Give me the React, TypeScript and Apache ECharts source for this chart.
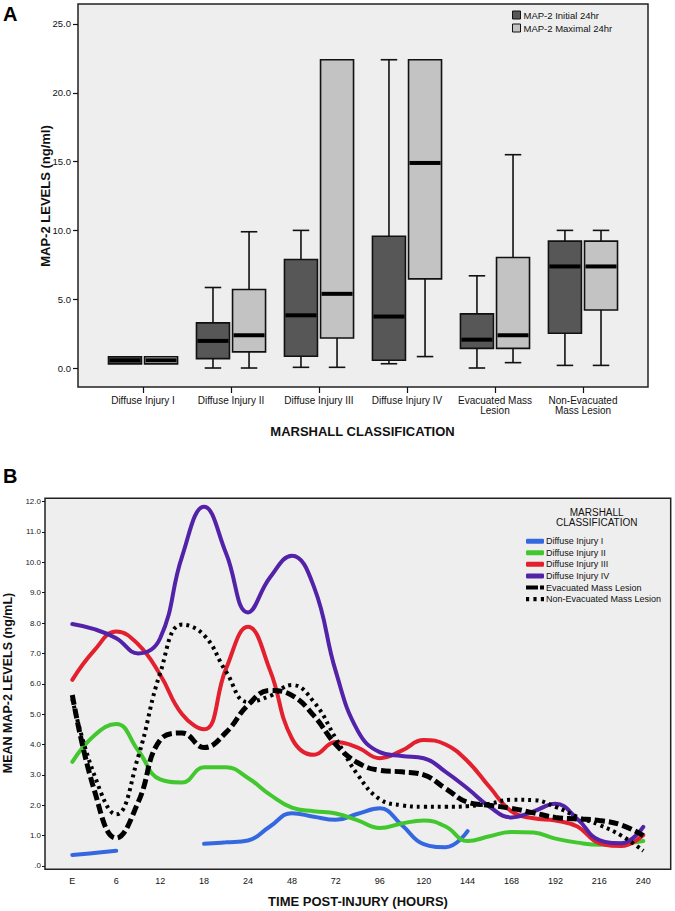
import React, { useEffect, useRef } from 'react';
import * as echarts from 'echarts';

const FONT = '"Liberation Sans", Arial, Helvetica, sans-serif';

// ---------- Panel A data ----------
const boxCategories = [
  'Diffuse Injury I',
  'Diffuse Injury II',
  'Diffuse Injury III',
  'Diffuse Injury IV',
  'Evacuated Mass\nLesion',
  'Non-Evacuated\nMass Lesion',
];
// [low whisker, Q1, median, Q3, high whisker]
const initialBoxes = [
  [0.3, 0.3, 0.56, 0.82, 0.82],
  [0.0, 0.68, 1.97, 3.28, 5.85],
  [0.05, 0.85, 3.83, 7.89, 10.0],
  [0.31, 0.56, 3.74, 9.57, 22.4],
  [0.0, 1.43, 2.06, 3.93, 6.7],
  [0.19, 2.53, 7.38, 9.22, 10.0],
];
const maximalBoxes = [
  [0.3, 0.3, 0.56, 0.82, 0.82],
  [0.0, 1.17, 2.38, 5.7, 9.9],
  [0.05, 2.18, 5.39, 22.4, 22.4],
  [0.83, 6.48, 14.9, 22.4, 22.4],
  [0.39, 1.43, 2.38, 8.03, 15.5],
  [0.19, 4.22, 7.38, 9.22, 10.0],
];
const boxSeriesNames = ['MAP-2 Initial 24hr', 'MAP-2 Maximal 24hr'];
const levelTicksA = [0, 5, 10, 15, 20, 25];

// ---------- Panel B data ----------
const timeLabels = ['E', '6', '12', '18', '24', '48', '72', '96', '120', '144', '168', '192', '216', '240'];
const levelTicksB = [0, 1, 2, 3, 4, 5, 6, 7, 8, 9, 10, 11, 12];
const samplePositions = [0, 0.5, 1, 1.5, 2, 2.5, 3, 3.5, 4, 4.5, 5, 5.5, 6, 6.5, 7, 7.5, 8, 8.5, 9, 9.5, 10, 10.5, 11, 11.5, 12, 12.5, 13];
const diffuseI = [0.36, 0.43, 0.5, null, null, null, 0.73, 0.78, 0.84, 1.3, 1.74, 1.62, 1.52, 1.72, 1.9, 1.35, 0.72, 0.62, 1.15, null, null, null, null, null, null, null, null];
const diffuseII = [3.43, 4.3, 4.68, 3.8, 2.85, 2.75, 3.25, 3.25, 2.9, 2.35, 1.92, 1.8, 1.73, 1.5, 1.25, 1.4, 1.5, 1.3, 0.82, 0.98, 1.12, 1.1, 0.9, 0.77, 0.7, 0.73, 0.82];
const diffuseIII = [6.13, 7.1, 7.72, 7.3, 6.3, 5.0, 4.5, 6.5, 7.88, 6.45, 4.2, 3.66, 4.08, 3.9, 3.55, 3.8, 4.15, 4.0, 3.45, 2.6, 1.8, 1.57, 1.5, 1.3, 0.75, 0.66, 1.02];
const diffuseIV = [7.97, 7.8, 7.5, 7.0, 7.5, 10.2, 11.83, 10.3, 8.35, 9.5, 10.22, 9.2, 6.4, 4.45, 3.75, 3.62, 3.55, 3.1, 2.55, 1.95, 1.6, 1.8, 2.05, 1.55, 0.85, 0.75, 1.29];
const evacuated = [5.63, 2.5, 0.92, 2.1, 4.15, 4.38, 3.9, 4.4, 5.3, 5.78, 5.62, 4.95, 4.0, 3.4, 3.15, 3.1, 3.0, 2.55, 2.1, 2.0, 1.9, 1.75, 1.6, 1.55, 1.5, 1.35, 1.0];
const nonEvacuated = [5.5, 3.0, 1.7, 3.6, 6.35, 7.95, 7.6, 6.4, 5.4, 5.6, 5.96, 5.4, 4.2, 3.0, 2.2, 2.0, 1.95, 1.95, 1.97, 2.05, 2.18, 2.17, 1.95, 1.62, 1.35, 1.0, 0.5];

const lineDefs = [
  { name: 'Diffuse Injury I', values: diffuseI, color: '#3568e0', width: 4, dash: 'solid' as any },
  { name: 'Diffuse Injury II', values: diffuseII, color: '#42c72e', width: 4, dash: 'solid' as any },
  { name: 'Diffuse Injury III', values: diffuseIII, color: '#e3202d', width: 4, dash: 'solid' as any },
  { name: 'Diffuse Injury IV', values: diffuseIV, color: '#5222a8', width: 4, dash: 'solid' as any },
  { name: 'Evacuated Mass Lesion', values: evacuated, color: '#000000', width: 5, dash: [10, 4] as any },
  { name: 'Non-Evacuated Mass Lesion', values: nonEvacuated, color: '#000000', width: 4, dash: [3, 4] as any },
];

const DARK = '#575757';
const LIGHT = '#c3c3c3';

function makeBoxRenderer(offsetRatio: number, fill: string) {
  return (_params: any, api: any) => {
    const cat = api.value(0);
    const lo = api.value(1);
    const q1 = api.value(2);
    const med = api.value(3);
    const q3 = api.value(4);
    const hi = api.value(5);
    const band = api.size([1, 0])[0];
    const cx = api.coord([cat, med])[0] + offsetRatio * band;
    const w = band * 0.375;
    const yLo = api.coord([cat, lo])[1];
    const yQ1 = api.coord([cat, q1])[1];
    const yMed = api.coord([cat, med])[1];
    const yQ3 = api.coord([cat, q3])[1];
    const yHi = api.coord([cat, hi])[1];
    const lineStyle = { stroke: '#111', lineWidth: 1.6 };
    const children: any[] = [];
    if (hi > q3) {
      children.push({ type: 'line', shape: { x1: cx, y1: yHi, x2: cx, y2: yQ3 }, style: lineStyle });
      children.push({ type: 'line', shape: { x1: cx - w / 4, y1: yHi, x2: cx + w / 4, y2: yHi }, style: lineStyle });
    }
    if (lo < q1) {
      children.push({ type: 'line', shape: { x1: cx, y1: yQ1, x2: cx, y2: yLo }, style: lineStyle });
      children.push({ type: 'line', shape: { x1: cx - w / 4, y1: yLo, x2: cx + w / 4, y2: yLo }, style: lineStyle });
    }
    children.push({
      type: 'rect',
      shape: { x: cx - w / 2, y: yQ3, width: w, height: Math.max(yQ1 - yQ3, 1) },
      style: { fill, stroke: '#111', lineWidth: 1.6 },
    });
    children.push({
      type: 'line',
      shape: { x1: cx - w / 2 + 1, y1: yMed, x2: cx + w / 2 - 1, y2: yMed },
      style: { stroke: '#000', lineWidth: 4 },
    });
    return { type: 'group', children };
  };
}

function boxData(rows: number[][]) {
  return rows.map((r, i) => [i, r[0], r[1], r[2], r[3], r[4]]);
}

export default function App() {
  const ref = useRef<HTMLDivElement>(null);

  useEffect(() => {
    const chart = echarts.init(ref.current!, null, { renderer: 'svg' });

    const lineSeries = lineDefs.map((d) => ({
      type: 'line',
      name: d.name,
      xAxisIndex: 1,
      yAxisIndex: 1,
      data: samplePositions.map((x, i) => [x, d.values[i]]),
      smooth: 0.45,
      symbol: 'none',
      showSymbol: false,
      connectNulls: false,
      clip: false,
      lineStyle: { color: d.color, width: d.width, type: d.dash, cap: d.dash === 'solid' ? 'round' : 'butt' },
      itemStyle: { color: d.color },
      emphasis: { disabled: true },
    }));

    const catIdx = boxCategories.map((_c, i) => i);
    const timeIdx = timeLabels.map((_t, i) => i);

    const option: any = {
      animation: false,
      backgroundColor: '#ffffff',
      textStyle: { fontFamily: FONT, color: '#111' },
      grid: [
        { left: 78, right: 27, top: 4, bottom: 524, show: true, backgroundColor: '#eeeeee', borderColor: '#222', borderWidth: 1.5 },
        { left: 45, right: 4.3, top: 498.3, bottom: 41.7, show: true, backgroundColor: '#eeeeee', borderColor: '#222', borderWidth: 1.5 },
      ],
      xAxis: [
        {
          type: 'value',
          gridIndex: 0,
          min: -0.739,
          max: 5.739,
          axisLine: { show: false, onZero: false },
          axisTick: { show: true, length: 6, customValues: catIdx, lineStyle: { color: '#111', width: 1.2 } },
          axisLabel: {
            customValues: catIdx,
            fontSize: 10,
            lineHeight: 9.5,
            margin: 9,
            color: '#111',
            fontFamily: FONT,
            formatter: (v: number) => boxCategories[Math.round(v)] ?? '',
          },
          splitLine: { show: false },
        },
        {
          type: 'value',
          gridIndex: 1,
          min: -0.622,
          max: 13.624,
          axisLine: { show: false, onZero: false },
          axisTick: { show: false },
          splitLine: { show: false },
          axisLabel: {
            customValues: timeIdx,
            fontSize: 9,
            margin: 7,
            color: '#111',
            fontFamily: FONT,
            formatter: (v: number) => timeLabels[Math.round(v)] ?? '',
          },
        },
      ],
      yAxis: [
        {
          type: 'value',
          gridIndex: 0,
          min: -1.38,
          max: 26.45,
          axisLine: { show: false, onZero: false },
          axisTick: { show: true, length: 5, customValues: levelTicksA, lineStyle: { color: '#111', width: 1.2 } },
          splitLine: { show: false },
          axisLabel: { customValues: levelTicksA, fontSize: 9.5, margin: 7, color: '#111', fontFamily: FONT, formatter: (v: number) => v.toFixed(1) },
        },
        {
          type: 'value',
          gridIndex: 1,
          min: -0.109,
          max: 12.109,
          axisLine: { show: false, onZero: false },
          axisTick: { show: true, length: 3, customValues: levelTicksB, lineStyle: { color: '#111', width: 1 } },
          splitLine: { show: false },
          axisLabel: {
            customValues: levelTicksB,
            fontSize: 8,
            margin: 4,
            color: '#222',
            fontFamily: FONT,
            formatter: (v: number) => (v === 0 ? '.0' : v.toFixed(1)),
          },
        },
      ],
      legend: [
        {
          orient: 'vertical',
          left: 512,
          top: 10,
          padding: 0,
          itemWidth: 8,
          itemHeight: 8,
          itemGap: 3,
          icon: 'rect',
          selectedMode: false,
          textStyle: { fontSize: 9.5, lineHeight: 8, color: '#111', fontFamily: FONT, padding: [0, 0, 0, -2] },
          data: [
            { name: boxSeriesNames[0], itemStyle: { color: DARK, borderColor: '#111', borderWidth: 1 } },
            { name: boxSeriesNames[1], itemStyle: { color: LIGHT, borderColor: '#111', borderWidth: 1 } },
          ],
        },
        {
          orient: 'vertical',
          left: 526,
          top: 535.5,
          padding: 0,
          itemWidth: 18,
          itemHeight: 5,
          itemGap: 0.3,
          selectedMode: false,
          textStyle: { fontSize: 9, lineHeight: 11.3, color: '#111', fontFamily: FONT, padding: [0, 0, 0, -3] },
          data: [
            { name: lineDefs[0].name, icon: 'roundRect' },
            { name: lineDefs[1].name, icon: 'roundRect' },
            { name: lineDefs[2].name, icon: 'roundRect' },
            { name: lineDefs[3].name, icon: 'roundRect' },
            { name: lineDefs[4].name, icon: 'path://M0,0h12v4h-12z M14,0h4v4h-4z' },
            { name: lineDefs[5].name, icon: 'path://M0,0h3v4h-3z M7,0h3v4h-3z M14,0h3v4h-3z' },
          ],
        },
      ],
      graphic: [
        {
          type: 'text',
          x: 3,
          y: 14,
          z: 10,
          style: { text: 'A', fontSize: 20, fontWeight: 'bold', fontFamily: FONT, fill: '#000', align: 'left', verticalAlign: 'middle' },
        },
        {
          type: 'text',
          x: 3,
          y: 476,
          z: 10,
          style: { text: 'B', fontSize: 20, fontWeight: 'bold', fontFamily: FONT, fill: '#000', align: 'left', verticalAlign: 'middle' },
        },
        {
          type: 'text',
          x: 45,
          y: 196,
          rotation: Math.PI / 2,
          z: 10,
          style: { text: 'MAP-2 LEVELS (ng/ml)', fontSize: 13, fontWeight: 'bold', fontFamily: FONT, fill: '#111', align: 'center', verticalAlign: 'middle' },
        },
        {
          type: 'text',
          x: 362.5,
          y: 431,
          z: 10,
          style: { text: 'MARSHALL CLASSIFICATION', fontSize: 13, fontWeight: 'bold', fontFamily: FONT, fill: '#111', align: 'center', verticalAlign: 'middle' },
        },
        {
          type: 'text',
          x: 8,
          y: 683,
          rotation: Math.PI / 2,
          z: 10,
          style: { text: 'MEAN MAP-2 LEVELS (ng/mL)', fontSize: 12.5, fontWeight: 'bold', fontFamily: FONT, fill: '#111', align: 'center', verticalAlign: 'middle' },
        },
        {
          type: 'text',
          x: 358,
          y: 901,
          z: 10,
          style: { text: 'TIME POST-INJURY (HOURS)', fontSize: 13, fontWeight: 'bold', fontFamily: FONT, fill: '#111', align: 'center', verticalAlign: 'middle' },
        },
        {
          type: 'text',
          x: 596.7,
          y: 517.7,
          z: 10,
          style: { text: 'MARSHALL\nCLASSIFICATION', fontSize: 10, lineHeight: 10, fontFamily: FONT, fill: '#111', align: 'center', verticalAlign: 'middle' },
        },
      ],
      series: [
        {
          type: 'custom',
          name: boxSeriesNames[0],
          xAxisIndex: 0,
          yAxisIndex: 0,
          data: boxData(initialBoxes),
          encode: { x: 0, y: [1, 2, 3, 4, 5] },
          renderItem: makeBoxRenderer(-0.205, DARK),
          itemStyle: { color: DARK, borderColor: '#111', borderWidth: 1 },
          silent: true,
        },
        {
          type: 'custom',
          name: boxSeriesNames[1],
          xAxisIndex: 0,
          yAxisIndex: 0,
          data: boxData(maximalBoxes),
          encode: { x: 0, y: [1, 2, 3, 4, 5] },
          renderItem: makeBoxRenderer(0.205, LIGHT),
          itemStyle: { color: LIGHT, borderColor: '#111', borderWidth: 1 },
          silent: true,
        },
        ...lineSeries,
      ],
    };

    chart.setOption(option);
    return () => chart.dispose();
  }, []);

  return <div ref={ref} style={{ position: 'absolute', left: 0, top: 0, width: 675, height: 911 }} />;
}
